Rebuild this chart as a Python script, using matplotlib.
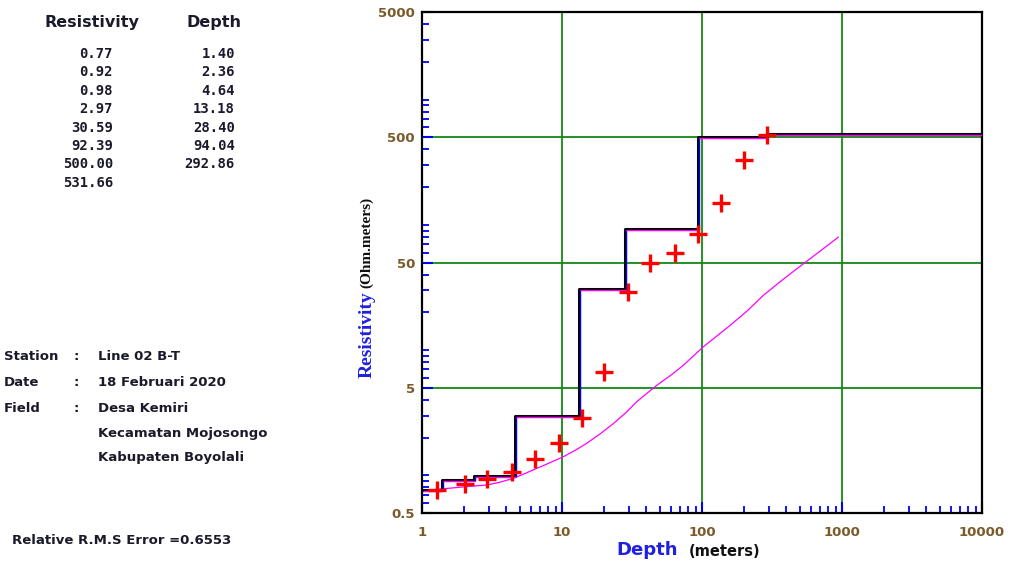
import matplotlib
matplotlib.use('Agg')
import matplotlib.pyplot as plt
import matplotlib.transforms as mtransforms
from matplotlib.ticker import FixedLocator, LogLocator, NullFormatter
import numpy as np

# layered model (table on the left)
resistivity = [0.77, 0.92, 0.98, 2.97, 30.59, 92.39, 500.00, 531.66]
depth = [1.40, 2.36, 4.64, 13.18, 28.40, 94.04, 292.86]

# field data (red crosses)
obs_ab = [1.28, 2.03, 2.91, 4.39, 6.41, 9.52, 13.9, 19.95, 29.6, 42.5, 64.1, 93.6, 136.7, 199.5, 291]
obs_rho = [0.764, 0.854, 0.935, 1.06, 1.35, 1.82, 2.88, 6.71, 29.3, 50, 59, 83.7, 148, 327, 518]

# thin magenta curve
curve_ab = [1.0, 1.14, 1.5, 2.03, 2.9, 3.6, 4.47, 5.4, 6.6, 8.2, 10.2, 12.4, 15.0, 18.8, 23.3,
            28.5, 34.2, 47.5, 60, 73.5, 102, 158.5, 210, 274, 360, 475, 650, 941]
curve_rho = [0.755, 0.763, 0.785, 0.81, 0.836, 0.88, 0.944, 1.03, 1.135, 1.26, 1.405, 1.58, 1.8,
             2.15, 2.59, 3.15, 3.87, 5.23, 6.3, 7.55, 10.6, 15.7, 20.5, 27.3, 35.0, 44.5, 58, 79.6]

x_ticks = [1, 10, 100, 1000, 10000]
y_ticks = [0.5, 5, 50, 500, 5000]

fig = plt.figure(figsize=(10.12, 5.62), dpi=100)
ax = fig.add_axes([422/1012, 1-513/562, 560/1012, 501/562])
ax.set_xscale('log')
ax.set_yscale('log')
ax.set_xlim(1, 10000)
ax.set_ylim(0.5, 5000)

green = '#138a13'
for v in x_ticks[1:-1]:
    ax.axvline(v, color=green, lw=1.3, zorder=1)
for v in y_ticks[1:-1]:
    ax.axhline(v, color=green, lw=1.3, zorder=1)

# magenta curve
ax.plot(curve_ab, curve_rho, color='#ff00ff', lw=0.9, zorder=2)

# model step line: thick black, with thin blue/magenta copy slightly offset
step_x = [1] + depth + [10000]
step_y = resistivity + [resistivity[-1]]
ax.step(step_x, step_y, where='post', color='black', lw=2.2, zorder=3)
off = mtransforms.offset_copy(ax.transData, fig=fig, x=1.0, y=-1.0, units='dots')
ax.vlines(depth, resistivity[:-1], resistivity[1:], color='#0000ff', lw=1.0,
          transform=off, zorder=4)
ax.hlines(resistivity, step_x[:-1], step_x[1:], color='#ff00ff', lw=1.0,
          transform=off, zorder=4)

# observed data
ax.plot(obs_ab, obs_rho, ls='none', marker='+', ms=13, mew=2.4, color='#ff0000', zorder=5)

ax.xaxis.set_major_locator(FixedLocator(x_ticks))
ax.yaxis.set_major_locator(FixedLocator(y_ticks))
ax.set_xticklabels([str(v) for v in x_ticks])
ax.set_yticklabels(['0.5', '5', '50', '500', '5000'])
ax.xaxis.set_minor_locator(LogLocator(base=10, subs=range(2, 10)))
ax.yaxis.set_minor_locator(LogLocator(base=10, subs=range(1, 10)))
ax.xaxis.set_minor_formatter(NullFormatter())
ax.yaxis.set_minor_formatter(NullFormatter())

lab = '#7a5a2a'
ax.tick_params(axis='both', which='major', direction='in', length=8, width=1.5,
               color='#0000ff', labelcolor=lab, labelsize=9.5)
ax.tick_params(axis='both', which='minor', direction='in', length=5, width=1.3,
               color='#0000ff')
ax.tick_params(axis='x', which='major', pad=9)
ax.tick_params(axis='y', which='major', pad=5)
for t in ax.get_xticklabels() + ax.get_yticklabels():
    t.set_fontweight('bold')
for s in ax.spines.values():
    s.set_color('black')
    s.set_linewidth(1.6)

# axis labels
fig.text(616/1012, 1-550/562, 'Depth', color='#2020e0', fontsize=13, fontweight='bold',
         ha='left', va='center')
fig.text(689/1012, 1-551/562, '(meters)', color='#101010', fontsize=10.5, fontweight='bold',
         ha='left', va='center')
fig.text(367/1012, 1-378/562, 'Resistivity', color='#2020e0', fontsize=14, fontweight='bold',
         family='Liberation Serif', rotation=90, ha='center', va='bottom')
fig.text(367/1012, 1-288/562, '(Ohm.meters)', color='#101010', fontsize=11, fontweight='bold',
         family='Liberation Serif', rotation=90, ha='center', va='bottom')

# model table
dark = '#1a1a2a'
fig.text(92/1012, 1-23/562, 'Resistivity', fontsize=11.5, fontweight='bold', color=dark,
         ha='center', va='center')
fig.text(214/1012, 1-23/562, 'Depth', fontsize=11.5, fontweight='bold', color=dark,
         ha='center', va='center')
for i, r in enumerate(resistivity):
    fig.text(113/1012, 1-(54 + i*18.4)/562, '%.2f' % r, fontsize=10, fontweight='bold',
             family='DejaVu Sans Mono', color=dark, ha='right', va='center')
for i, d in enumerate(depth):
    fig.text(235/1012, 1-(54 + i*18.4)/562, '%.2f' % d, fontsize=10, fontweight='bold',
             family='DejaVu Sans Mono', color=dark, ha='right', va='center')

# station info
info = [('Station', 'Line 02 B-T'), ('Date', '18 Februari 2020'), ('Field', 'Desa Kemiri'),
        ('', 'Kecamatan Mojosongo'), ('', 'Kabupaten Boyolali')]
ys = [356, 382, 408, 433, 458]
for (k, v), y in zip(info, ys):
    if k:
        fig.text(4/1012, 1-y/562, k, fontsize=9.5, fontweight='bold', color=dark, va='center')
        fig.text(74/1012, 1-y/562, ':', fontsize=9.5, fontweight='bold', color=dark, va='center')
    fig.text(98/1012, 1-y/562, v, fontsize=9.5, fontweight='bold', color=dark, va='center')

fig.text(12/1012, 1-540/562, 'Relative R.M.S Error =0.6553', fontsize=9.5, fontweight='bold',
         color=dark, va='center')

fig.savefig('out.png', dpi=100)
